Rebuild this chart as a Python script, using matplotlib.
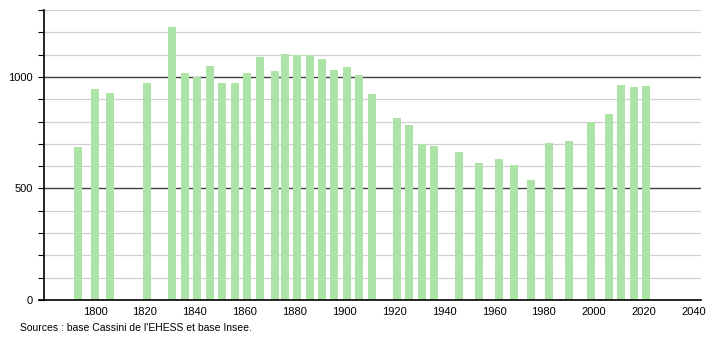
import matplotlib.pyplot as plt
from matplotlib.ticker import MultipleLocator

plt.rcParams["font.family"] = ["Liberation Sans", "DejaVu Sans"]

years = [1793, 1800, 1806, 1821, 1831, 1836, 1841, 1846, 1851, 1856,
         1861, 1866, 1872, 1876, 1881, 1886, 1891, 1896, 1901, 1906,
         1911, 1921, 1926, 1931, 1936, 1946, 1954, 1962, 1968, 1975,
         1982, 1990, 1999, 2006, 2011, 2016, 2021]
population = [688, 947, 928, 973, 1223, 1019, 1000, 1051, 974, 974,
              1019, 1091, 1027, 1105, 1097, 1097, 1079, 1033, 1046, 1010,
              924, 817, 784, 700, 692, 665, 614, 632, 605, 539,
              704, 714, 798, 835, 964, 955, 961]
xticks = [1800, 1820, 1840, 1860, 1880, 1900, 1920, 1940, 1960, 1980, 2000, 2020, 2040]
source = "Sources : base Cassini de l'EHESS et base Insee."

fig = plt.figure(figsize=(7.1, 3.4), dpi=100)
ax = fig.add_axes([44/710, 40/340, 657/710, 290/340])

# grille : lignes fines tous les 100, plus foncées tous les 500
for v in range(100, 1301, 100):
    if v % 500 == 0:
        ax.axhline(v, color="#404040", lw=1.0, zorder=0)
    else:
        ax.axhline(v, color="#d0d0d0", lw=0.9, zorder=0)

ax.bar(years, population, width=3.2, color="#ade3a7", zorder=2)

ax.set_xlim(1779.5, 2043)
ax.set_ylim(0, 1300)
ax.set_xticks(xticks)
ax.set_yticks([0, 500, 1000])
ax.yaxis.set_minor_locator(MultipleLocator(100))
ax.tick_params(axis="x", length=0, labelsize=8, pad=5)
ax.tick_params(axis="y", which="major", length=4, width=0.8, labelsize=8, pad=4)
ax.tick_params(axis="y", which="minor", length=4, width=0.8, direction="out")
for s in ["top", "right"]:
    ax.spines[s].set_visible(False)
ax.spines["left"].set_linewidth(1.2)
ax.spines["bottom"].set_linewidth(1.2)
ax.spines["bottom"].set_bounds(1777.5, 2043)
ax.spines["bottom"].set_zorder(3)

fig.text(20/710, 1 - 328/340, source, fontsize=7.5, va="center", ha="left")

fig.savefig("out.png", dpi=100)
